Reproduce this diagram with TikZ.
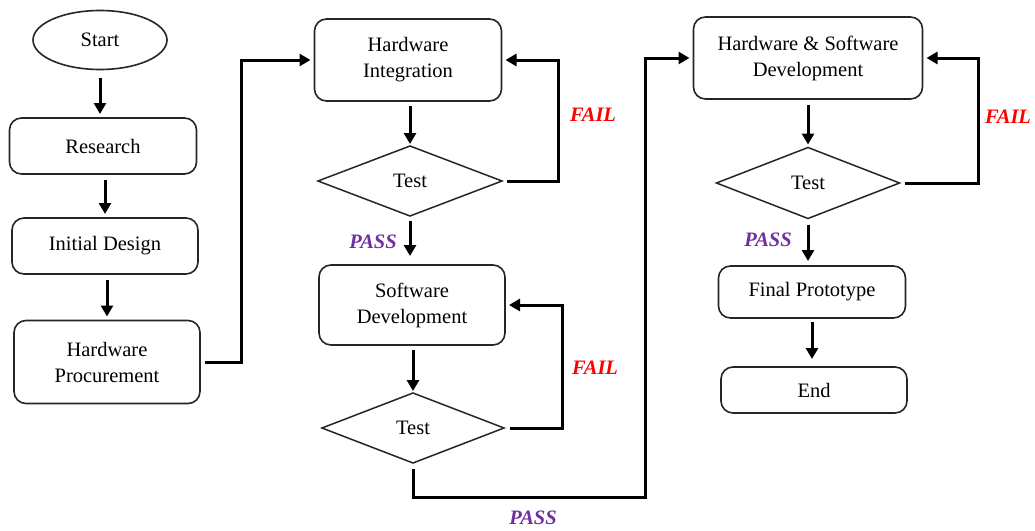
\documentclass[tikz,border=0pt]{standalone}
\usepackage{fontspec}
\setmainfont{Liberation Serif}
\usetikzlibrary{shapes.geometric,arrows.meta}
\definecolor{failred}{RGB}{255,0,0}
\definecolor{passpurple}{RGB}{112,48,160}
\tikzset{
  box/.style={draw=black!85, line width=1.6pt, rounded corners=12pt, inner sep=0pt, outer sep=0pt, align=center, font=\fontsize{20.5}{26}\selectfont},
  dec/.style={draw=black!85, line width=1.5pt, diamond, inner sep=0pt, outer sep=0pt, font=\fontsize{20.5}{26}\selectfont},
  oval/.style={draw=black!85, line width=1.6pt, ellipse, inner sep=0pt, outer sep=0pt, font=\fontsize{20.5}{26}\selectfont},
  arr/.style={line width=3pt, -{Triangle[length=11pt,width=12pt]}},
  fail/.style={text=failred, font=\fontsize{20.5}{24}\selectfont\bfseries\itshape},
  pass/.style={text=passpurple, font=\fontsize{20.5}{24}\selectfont\bfseries\itshape},
}
\begin{document}
\begin{tikzpicture}[x=1pt,y=-1pt]
\useasboundingbox[fill=white] (0,0) rectangle (1035,530);
% column 1
\node[oval, minimum width=134pt, minimum height=59pt] (start) at (100,40) {Start};
\node[box, minimum width=187pt, minimum height=56pt] (res) at (103,146) {Research};
\node[box, minimum width=186pt, minimum height=56pt] (init) at (105,246) {Initial Design};
\node[box, minimum width=186pt, minimum height=83pt] (hp) at (107,362) {Hardware\\Procurement};
% column 2
\node[box, minimum width=187pt, minimum height=82pt] (hi) at (408,60) {Hardware\\Integration};
\node[dec, minimum width=184pt, minimum height=70pt] (t1) at (410,181) {Test};
\node[box, minimum width=186pt, minimum height=80pt] (sd) at (412,305) {Software\\Development};
\node[dec, minimum width=182pt, minimum height=70pt] (t2) at (413,428) {Test};
% column 3
\node[box, minimum width=229pt, minimum height=82pt] (hsd) at (808,58) {Hardware \& Software\\Development};
\node[dec, minimum width=183pt, minimum height=71pt] (t3) at (808,183) {Test};
\node[box, minimum width=187pt, minimum height=52pt] (fp) at (812,292) {Final Prototype};
\node[box, minimum width=186pt, minimum height=46pt] (end) at (814,390) {End};
% helper coordinates
\coordinate (c1) at (241,362);
\coordinate (f1) at (558,181);
\coordinate (f2) at (562,428);
\coordinate (f3) at (978,183);
\coordinate (p1) at (413,497);
\coordinate (p2) at (645,497);
% connectors column 1
\draw[arr, shorten <=8pt, shorten >=4pt] (start.south) -- (start.south |- res.north);
\draw[arr, shorten <=6pt, shorten >=4pt] (res.south -| init.north) -- (init.north);
\draw[arr, shorten <=6pt, shorten >=4pt] (init.south -| hp.north) -- (hp.north);
\draw[arr, shorten <=5pt, shorten >=4pt] (hp.east) -- (c1) |- (hi.west);
% column 2
\draw[arr, shorten <=5pt, shorten >=2pt] (hi.south -| t1.north) -- (t1.north);
\draw[arr, shorten <=5pt, shorten >=4pt] (t1.east) -- (f1) |- (hi.east);
\draw[arr, shorten <=5pt, shorten >=9pt] (t1.south) -- (t1.south |- sd.north);
\draw[arr, shorten <=5pt, shorten >=2pt] (sd.south -| t2.north) -- (t2.north);
\draw[arr, shorten <=6pt, shorten >=4pt] (t2.east) -- (f2) |- (sd.east);
\draw[arr, shorten <=6pt, shorten >=4pt] (t2.south) -- (p1) -- (p2) |- (hsd.west);
% column 3
\draw[arr, shorten <=6pt, shorten >=3pt] (hsd.south) -- (t3.north);
\draw[arr, shorten <=5pt, shorten >=4pt] (t3.east) -- (f3) |- (hsd.east);
\draw[arr, shorten <=6pt, shorten >=5pt] (t3.south) -- (t3.south |- fp.north);
\draw[arr, shorten <=4pt, shorten >=8pt] (fp.south) -- (fp.south |- end.north);
% labels
\node[fail] (lf1) at (593,115) {FAIL};
\node[fail] (lf2) at (595,368) {FAIL};
\node[fail] (lf3) at (1008,117) {FAIL};
\node[pass] (lp1) at (373,242) {PASS};
\node[pass] (lp2) at (533,518) {PASS};
\node[pass] (lp3) at (768,240) {PASS};
\end{tikzpicture}
\end{document}
